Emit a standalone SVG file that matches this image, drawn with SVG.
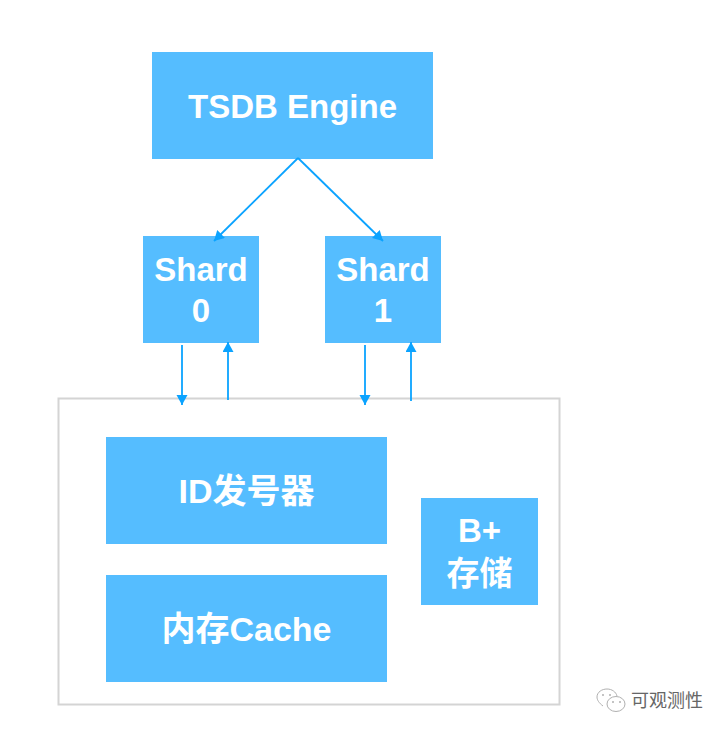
<svg xmlns="http://www.w3.org/2000/svg" width="726" height="734" viewBox="0 0 726 734">
<style>
.n{fill:#55bdff}
.t{fill:#fff;font-family:"Liberation Sans","Noto Sans CJK SC",sans-serif;font-size:33px;font-weight:700;text-anchor:middle}
.k{font-size:34px}
.c{stroke:#0ba3ff;stroke-width:1.8;fill:none;marker-end:url(#a)}
</style>
<defs><marker id="a" markerUnits="userSpaceOnUse" markerWidth="12" markerHeight="12" refX="10" refY="5.500" orient="auto"><path d="M0 0L10 5.500L0 11z" fill="#0ba3ff"/></marker></defs>
<rect width="726" height="734" fill="#fff"/>
<g id="container"><rect x="58.500" y="398.500" width="501" height="306" fill="#fff" stroke="#d4d4d4" stroke-width="2"/></g>
<g id="engine"><rect class="n" x="152" y="52" width="281" height="107"/><text class="t" x="292.500" y="118">TSDB Engine</text></g>
<g id="shard0"><rect class="n" x="143" y="236" width="116" height="107"/><text class="t" x="201" y="281">Shard</text><text class="t" x="201" y="322">0</text></g>
<g id="shard1"><rect class="n" x="325" y="236" width="116" height="107"/><text class="t" x="383" y="281">Shard</text><text class="t" x="383" y="322">1</text></g>
<g id="idgen"><rect class="n" x="106" y="437" width="281" height="107"/><text class="t k" x="246.500" y="503">ID发号器</text></g>
<g id="cache"><rect class="n" x="106" y="575" width="281" height="107"/><text class="t k" x="246.500" y="641">内存Cache</text></g>
<g id="bplus"><rect class="n" x="421" y="498" width="117" height="107"/><text class="t" x="479.500" y="542">B+</text><text class="t" x="479.500" y="585">存储</text></g>
<g id="connectors">
<path class="c" d="M298 158L214 241"/>
<path class="c" d="M298 158L383 241"/>
<path class="c" d="M182 345V405"/>
<path class="c" d="M228 400V342"/>
<path class="c" d="M365 345V405"/>
<path class="c" d="M411 401V342"/>
</g>
<g id="watermark">
<g fill="none" stroke="#b0b0b0" stroke-width="1"><path d="M603 706C599 703 597 700 597 697C597 692 602 689 607 689C612 689 616 692 617 696"/><ellipse cx="616" cy="704" rx="9" ry="7.500"/></g>
<g fill="#b0b0b0"><circle cx="603" cy="695" r="1"/><circle cx="610" cy="695" r="1"/><circle cx="613" cy="702" r="1"/><circle cx="620" cy="702" r="1"/></g>
<text x="631" y="707" font-family="'Noto Sans CJK SC',sans-serif" font-size="18" fill="#666">可观测性</text>
</g>
</svg>
